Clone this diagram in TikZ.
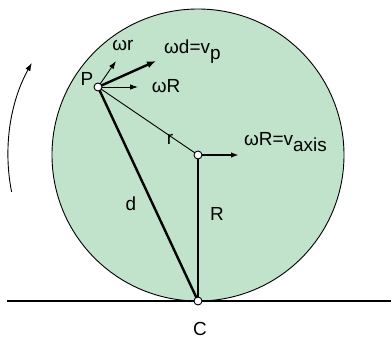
\documentclass[tikz,border=0pt]{standalone}
\usepackage{fontspec}
\setmainfont{Liberation Sans}
\usetikzlibrary{arrows.meta}
\definecolor{wheel}{RGB}{193,226,203}
\begin{document}
\begin{tikzpicture}[x=1bp,y=-1bp,
  pt/.style={circle,draw,fill=white,inner sep=0pt,minimum size=8bp,line width=0.9bp},
  lbl/.style={inner sep=0pt,font=\fontsize{19}{21}\selectfont},
  thin/.style={line width=0.9bp},
  thick2/.style={line width=2.4bp},
  arr/.style={-{Latex[length=8bp,width=5.5bp]}}]
\useasboundingbox (0,0) rectangle (391,342);
\coordinate (O) at (198,155);
\coordinate (P) at (98,87);
\coordinate (C) at (198,301);
\coordinate (gl) at (7,301);
\coordinate (gr) at (391,301);
\coordinate (tr) at (116,61);
\coordinate (td) at (156,61);
\coordinate (tR) at (138,87);
\coordinate (tax) at (239,155);
% wheel
\fill[wheel] (O) circle[radius=146];
\draw[thin] (O) circle[radius=146];
% ground
\draw[thick2] (gl) -- (gr);
% lines
\draw[thin] (P) -- (O);
\draw[thick2] (P) -- (C);
\draw[thick2] (O) -- (C);
% velocity arrows
\draw[thin,arr] (P) -- (tr);
\draw[thick2,-{Latex[length=9bp,width=7bp]}] (P) -- (td);
\draw[thin,arr] (P) -- (tR);
\draw[line width=1.6bp,arr] (O) -- (tax);
% rotation arrow
\draw[thin,arr] (11.6,191.9) arc[start angle=168.8,end angle=209,radius=190];
% points
\node[pt] (Pn) at (P) {};
\node[pt] (On) at (O) {};
\node[pt] (Cn) at (C) {};
% labels
\node[lbl] (lP) at (87,79) {P};
\node[lbl] (lwr) at (123,45) {ωr};
\node[lbl,anchor=base west] (lwd) at (164,53) {ωd=v\raisebox{-6bp}{p}};
\node[lbl] (lwR) at (166,86) {ωR};
\node[lbl] (lr) at (170,139) {r};
\node[lbl,anchor=base west] (lax) at (244,145) {ωR=v\raisebox{-6bp}{axis}};
\node[lbl] (ld) at (131,204) {d};
\node[lbl] (lR) at (217,214) {R};
\node[lbl] (lC) at (200,329) {C};
\end{tikzpicture}
\end{document}
